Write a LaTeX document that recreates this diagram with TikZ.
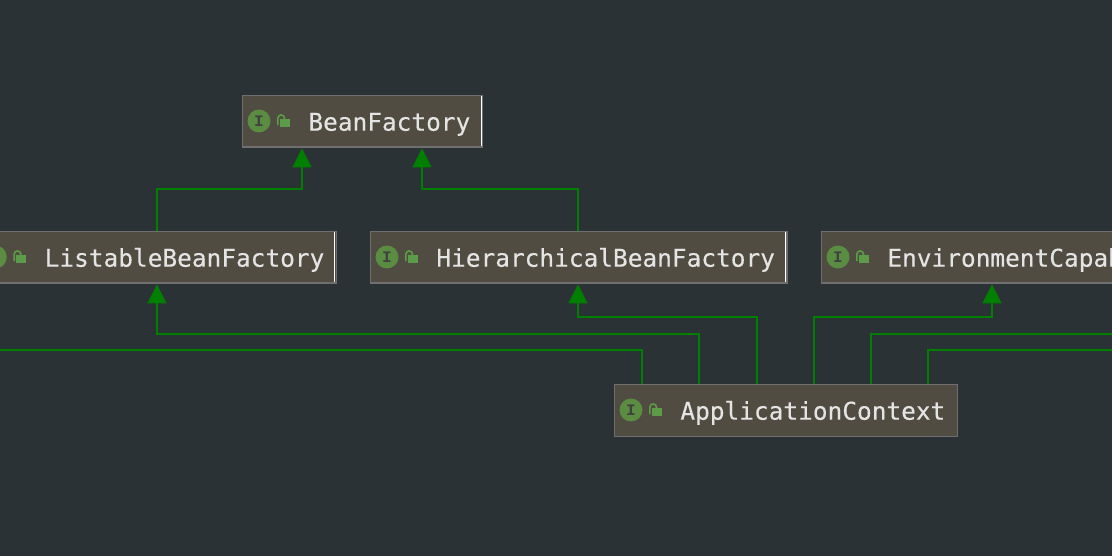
\documentclass[tikz,border=0pt]{standalone}
\usepackage{fontspec}
\setmonofont{DejaVu Sans Mono}[FakeBold=0.25]
\newfontfamily\iconfont{Liberation Mono}[BoldFont={Liberation Mono Bold}]
\usetikzlibrary{arrows.meta,calc}
\definecolor{bgc}{HTML}{2B3235}
\definecolor{boxc}{HTML}{504C41}
\definecolor{borderc}{HTML}{6F6F6F}
\definecolor{edgec}{HTML}{007F00}
\definecolor{iconc}{HTML}{5A8C41}
\definecolor{lockc}{HTML}{5C9C48}
\definecolor{textc}{HTML}{E4E4E4}
\tikzset{
  clsbox/.style={draw=borderc,fill=boxc,line width=1.4pt,anchor=north west,inner xsep=0pt,inner ysep=0pt,
    align=left,text=textc,text height=35pt,text depth=17pt,
    font=\fontsize{24.45}{28}\selectfont\ttfamily},
  edge/.style={draw=edgec,line width=1.5pt},
  arrowedge/.style={edge,-{Triangle[width=19pt 0 0,length=19pt 0 0]}},
  iconletter/.style={inner sep=0pt,text=black!75,font=\fontsize{16}{17}\selectfont\iconfont\bfseries},
}
\newcommand{\clsnode}[5]{% name, left, top, width, text
  \node[clsbox,text width=#4pt] (#1) at (#2,#3) {\hspace*{66pt}#5};
}
\newcommand{\clsicon}[1]{%
  \begin{scope}[shift={(#1.west)}]
    \fill[iconc] (17.3,-0.7) circle[radius=11.5pt];
    \node[iconletter] (#1-i) at (17.3,-0.7) {I};
    \fill[lockc] (38,-2.4) rectangle (48,5.3);
    \draw[lockc,line width=1.6pt] (36.2,3.5) -- (36.2,-3.5) arc[start angle=180,end angle=0,radius=3.3pt] -- ++(0,1.5);
  \end{scope}
}
\begin{document}
\begin{tikzpicture}[x=1pt,y=-1pt]
\useasboundingbox (0,0) rectangle (1112,556);
\clip (0,0) rectangle (1112,556);
\fill[bgc] (0,0) rectangle (1112,556);

% free ends
\coordinate (offl) at (-6,350);
\coordinate (offr) at (1118,350);
\coordinate (offm) at (1118,334);

\clsnode{bf}{241.7}{95}{240}{BeanFactory}
\clsnode{lbf}{-22}{231}{357.5}{ListableBeanFactory}
\clsnode{hbf}{369.7}{231}{416.5}{HierarchicalBeanFactory}
\clsnode{env}{820.7}{231}{343}{EnvironmentCapable}
\clsnode{app}{613.7}{384}{343}{ApplicationContext}

% right-hand highlights and heavier bottom edges
\foreach \n in {bf,lbf,hbf}{
  \draw[white,line width=1pt] ([xshift=-2pt,yshift=-1pt]\n.north east) -- ([xshift=-2pt,yshift=2pt]\n.south east);
}
\foreach \n in {bf,lbf,hbf,env}{
  \draw[borderc,line width=2.2pt] ([yshift=1pt]\n.south west) -- ([yshift=1pt]\n.south east);
}
\foreach \n in {bf,lbf,hbf,env,app}{\clsicon{\n}}

% connectors
\draw[arrowedge] (lbf.north west) ++(179,0) coordinate (s1) -- (s1 |- 0,189) -| ([xshift=60.3pt]bf.south west);
\draw[arrowedge] (hbf.north west) ++(208.3,0) coordinate (s2) -- (s2 |- 0,189) -| ([xshift=180.3pt]bf.south west);
\draw[edge] ([xshift=28.3pt]app.north west) |- (offl);
\draw[arrowedge] ([xshift=85.3pt]app.north west) coordinate (s3) -- (s3 |- 0,334) -| ([xshift=179pt]lbf.south west);
\draw[arrowedge] ([xshift=143.3pt]app.north west) coordinate (s4) -- (s4 |- 0,317) -| ([xshift=208.3pt]hbf.south west);
\draw[arrowedge] ([xshift=200.3pt]app.north west) coordinate (s5) -- (s5 |- 0,317) -| ([xshift=171.3pt]env.south west);
\draw[edge] ([xshift=257.3pt]app.north west) |- (offm);
\draw[edge] ([xshift=314.3pt]app.north west) |- (offr);
\end{tikzpicture}
\end{document}
